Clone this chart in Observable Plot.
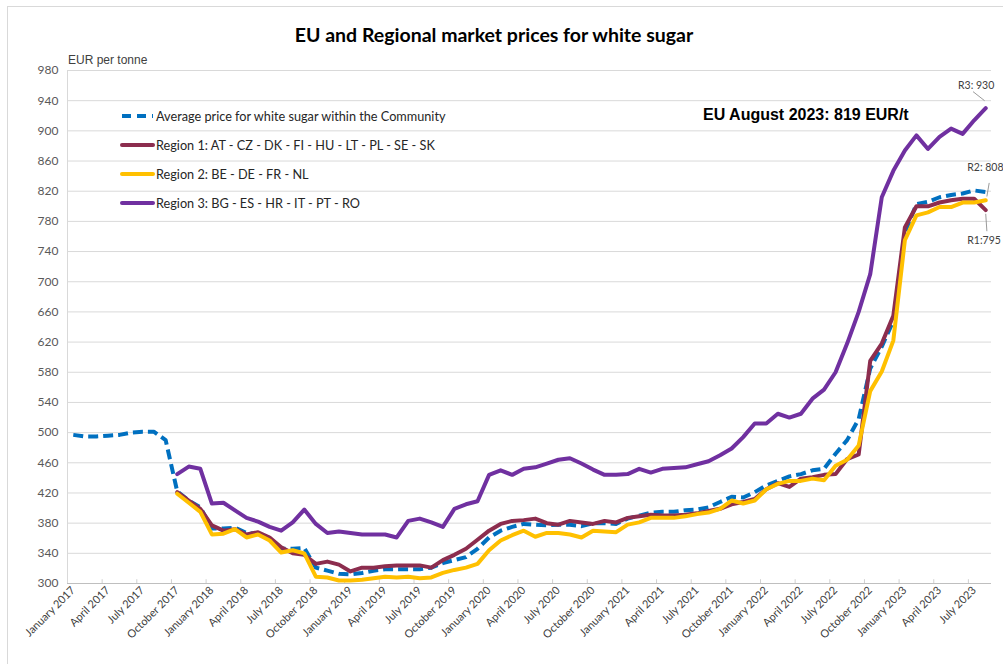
<!DOCTYPE html>
<html>
<head>
<meta charset="utf-8">
<script src="https://cdn.jsdelivr.net/npm/d3@7"></script>
<script src="https://cdn.jsdelivr.net/npm/@observablehq/plot@0.6"></script>
<style>
  html, body { margin: 0; padding: 0; background: #fff; }
  #wrap { position: relative; width: 1003px; height: 664px; overflow: hidden; background: #fff; }
  #border { position: absolute; left: 7px; top: 6px; width: 1100px; height: 800px; border: 1px solid #d9d9d9; box-sizing: border-box; }
  #title { position: absolute; left: 0; width: 988px; top: 23px; text-align: center; font-family: Lato, "Open Sans", sans-serif; font-weight: 700; font-size: 19.5px; color: #000; }
  #unit { position: absolute; left: 68px; top: 53px; font-family: "Liberation Sans", Arial, sans-serif; font-size: 12px; color: #404040; }
  #eu { position: absolute; left: 703px; top: 106px; font-family: "Liberation Sans", Arial, sans-serif; font-weight: 700; font-size: 16px; color: #000; }
  .leg { position: absolute; left: 120px; height: 16px; display: flex; align-items: center; font-family: Lato, "Open Sans", sans-serif; font-size: 12.7px; color: #262626; }
  .leg svg { margin-right: 1px; }
  #chart { position: absolute; left: 0; top: 0; }
</style>
</head>
<body>
<div id="wrap">
  <div id="border"></div>
  <div id="chart"></div>
  <div id="title"></div>
  <div id="unit"></div>
  <div id="eu"></div>
  <div id="legend"></div>
</div>
<script>
// ---- Data (monthly, January 2017 = index 0 ... August 2023 = index 79) ----
const titleText = "EU and Regional market prices for white sugar";
const unitText = "EUR per tonne";
const euNote = "EU August 2023: 819 EUR/t";

const seriesNames = [
  "Average price for white sugar within the Community",
  "Region 1: AT - CZ - DK - FI - HU - LT - PL - SE - SK",
  "Region 2: BE - DE - FR -  NL",
  "Region 3: BG - ES - HR - IT - PT - RO"
];
const seriesColors = ["#0070C0", "#8C2D4E", "#FFC000", "#7030A0"];

const xTickLabels = [
  "January 2017","April 2017","July 2017","October 2017",
  "January 2018","April 2018","July 2018","October 2018",
  "January 2019","April 2019","July 2019","October 2019",
  "January 2020","April 2020","July 2020","October 2020",
  "January 2021","April 2021","July 2021","October 2021",
  "January 2022","April 2022","July 2022","October 2022",
  "January 2023","April 2023","July 2023"
];
const yTicks = [300,340,380,420,460,500,540,580,620,660,700,740,780,820,860,900,940,980];

// EU average from January 2017
const euAverage = [
  497,495,495,496,497,500,501,501,490,422,410,401,
  373,373,374,367,366,360,346,346,347,321,317,313,
  312,314,317,319,319,319,319,321,327,331,335,346,
  361,370,375,379,378,377,378,378,376,380,380,379,
  386,390,394,395,395,397,398,401,408,415,414,421,
  430,436,442,445,450,452,472,490,518,585,614,648,
  765,803,806,812,815,817,821,819
];
// Regions start in October 2017 (index 9)
const regionStart = 9;
const region1 = [
                                  421,410,399,
  377,370,372,365,368,361,348,340,338,326,329,325,
  316,321,321,323,324,324,324,321,331,338,346,358,
  370,379,383,384,386,380,378,383,381,379,383,381,
  387,389,391,390,390,391,393,396,399,405,408,412,
  425,433,428,439,441,444,445,465,471,595,618,655,
  772,800,800,805,808,810,810,795
];
const region2 = [
                                  419,407,395,
  365,366,372,361,365,357,341,344,340,309,308,304,
  304,305,307,309,308,309,307,308,314,318,321,326,
  344,357,364,370,362,367,367,365,361,370,369,368,
  378,381,387,387,387,389,392,394,399,410,406,410,
  425,432,436,436,439,437,456,464,483,555,581,622,
  755,788,792,799,799,805,805,808
];
const region3 = [
                                  445,455,452,
  406,407,397,387,382,375,370,381,398,379,367,369,
  367,365,365,365,361,383,386,381,375,399,405,409,
  444,450,444,452,454,459,464,466,459,451,444,444,
  445,452,447,452,453,454,458,462,470,479,494,512,
  512,525,520,525,545,557,580,618,660,710,812,847,
  874,894,876,892,903,896,914,930
];

// ---- Build table ----
const rows = [];
euAverage.forEach((v, i) => rows.push({i, value: v, series: seriesNames[0]}));
[region1, region2, region3].forEach((arr, k) =>
  arr.forEach((v, j) => rows.push({i: regionStart + j, value: v, series: seriesNames[k + 1]})));
const bySeries = seriesNames.map(s => rows.filter(r => r.series === s));

const nMonths = euAverage.length;
const labelIdx = xTickLabels.map((_, k) => k * 3);
const boundaryIdx = d3.range(2.5, nMonths - 0.5, 3);

// end labels for the regions
const lastOf = arr => ({i: regionStart + arr.length - 1, value: arr[arr.length - 1]});
const endLabels = [
  {...lastOf(region3), text: "R3: " + lastOf(region3).value, di: -2.4, dv: 30, li: [-0.1, 10], lj: [-1.1, 22]},
  {...lastOf(region2), text: "R2: " + lastOf(region2).value, di: -1.6, dv: 43, li: [0.1, 5], lj: [0.3, 23]},
  {...lastOf(region1), text: "R1:" + lastOf(region1).value, di: -1.6, dv: -40, li: [0.0, -5], lj: [0.1, -28]}
];
const leaders = endLabels.map(d => ({x1: d.i + d.li[0], y1: d.value + d.li[1], x2: d.i + d.lj[0], y2: d.value + d.lj[1]}));

const fontFam = "Lato, 'Open Sans', sans-serif";

const chart = Plot.plot({
  width: 1003,
  height: 664,
  marginTop: 70,
  marginRight: 12,
  marginBottom: 81,
  marginLeft: 67,
  style: {fontFamily: fontFam, fontSize: "12px", color: "#595959", background: "transparent", overflow: "hidden"},
  x: {domain: [-0.5, nMonths - 0.5]},
  y: {domain: [300, 980]},
  marks: [
    Plot.gridY(yTicks, {stroke: "#d9d9d9", strokeOpacity: 1, strokeWidth: 1}),
    Plot.ruleX([-0.5], {stroke: "#d9d9d9"}),
    Plot.ruleY([300], {stroke: "#bfbfbf"}),
    Plot.ruleX(boundaryIdx, {y1: 300, y2: 305, stroke: "#d0d0d0"}),
    Plot.axisY(yTicks, {tickSize: 0, tickPadding: 9, fontSize: 12, fill: "#595959", label: null}),
    Plot.axisX(labelIdx, {tickSize: 0, tickPadding: 5, tickRotate: -45, fontSize: 11, fill: "#404040",
      tickFormat: d => xTickLabels[d / 3], label: null}),
    ...bySeries.map((data, k) => Plot.line(data, {
      x: "i", y: "value",
      stroke: seriesColors[k], strokeWidth: 4,
      strokeDasharray: k === 0 ? "10,5" : null,
      strokeLinejoin: "round", strokeLinecap: k === 0 ? "butt" : "round"
    })),
    Plot.link(leaders, {x1: "x1", y1: "y1", x2: "x2", y2: "y2", stroke: "#808080", strokeWidth: 0.8}),
    Plot.text(endLabels, {x: d => d.i + d.di, y: d => d.value + d.dv, text: "text", textAnchor: "start",
      fontSize: 10.5, fill: "#404040", fontFamily: fontFam})
  ]
});
document.getElementById("chart").appendChild(chart);

document.getElementById("title").textContent = titleText;
document.getElementById("unit").textContent = unitText;
document.getElementById("eu").textContent = euNote;

const legendTops = [108, 137, 166, 195];
const legend = document.getElementById("legend");
seriesNames.forEach((name, k) => {
  const item = document.createElement("div");
  item.className = "leg";
  item.style.top = legendTops[k] + "px";
  const dash = k === 0 ? 'stroke-dasharray="9,6"' : '';
  const cap = k === 0 ? 'butt' : 'round';
  item.innerHTML = `<svg width="35" height="16"><line x1="2" y1="8" x2="33" y2="8" stroke="${seriesColors[k]}" stroke-width="4" stroke-linecap="${cap}" ${dash}/></svg><span></span>`;
  item.querySelector("span").textContent = name;
  legend.appendChild(item);
});
</script>
</body>
</html>
